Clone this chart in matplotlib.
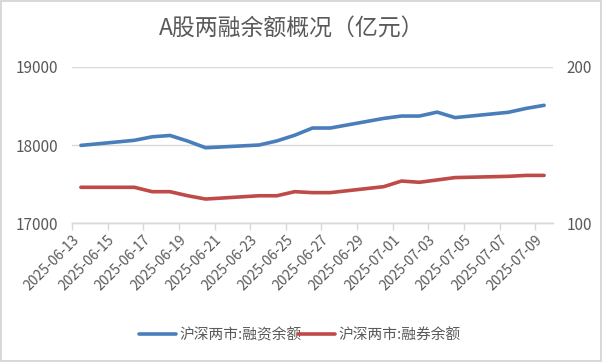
import datetime as dt
import matplotlib
matplotlib.use("Agg")
import matplotlib.pyplot as plt
import matplotlib.dates as mdates

plt.rcParams['font.family'] = ['Noto Sans CJK SC', 'DejaVu Sans']

# trading days
dates = ["2025-06-13", "2025-06-16", "2025-06-17", "2025-06-18", "2025-06-19",
         "2025-06-20", "2025-06-23", "2025-06-24", "2025-06-25", "2025-06-26",
         "2025-06-27", "2025-06-30", "2025-07-01", "2025-07-02", "2025-07-03",
         "2025-07-04", "2025-07-07", "2025-07-08", "2025-07-09"]
# 沪深两市:融资余额 (left axis)
financing = [17995, 18060, 18105, 18122, 18050, 17965, 18000, 18052, 18125,
             18217, 18217, 18340, 18370, 18370, 18420, 18350, 18418, 18468, 18507]
# 沪深两市:融券余额 (right axis)
lending = [123.0, 123.0, 120.2, 120.2, 117.6, 115.5, 117.6, 117.6, 120.2,
           119.6, 119.6, 123.4, 127.0, 126.2, 127.7, 129.2, 130.0, 130.6, 130.6]

title = "A股两融余额概况（亿元）"
label_fin = "沪深两市:融资余额"
label_lend = "沪深两市:融券余额"

gray = "#595959"
grid_c = "#d9d9d9"

# excel date axis: points sit in the middle of each day
x = [dt.datetime.strptime(d, "%Y-%m-%d") + dt.timedelta(hours=12) for d in dates]
start = dt.datetime(2025, 6, 13)
end = dt.datetime(2025, 7, 10)

fig = plt.figure(figsize=(6.02, 3.62), dpi=100)
fig.patch.set_edgecolor("#d9d9d9")
fig.patch.set_linewidth(1.5)
ax = fig.add_axes([0.1196, 0.3831, 0.799, 0.4326])
ax2 = ax.twinx()

l1, = ax.plot(x, financing, color="#4a7ebb", lw=2.6, solid_capstyle="round", label=label_fin)
l2, = ax2.plot(x, lending, color="#be4b48", lw=2.6, solid_capstyle="round", label=label_lend)

ax.set_xlim(start, end)
ax.set_ylim(17000, 19000)
ax.set_yticks([17000, 18000, 19000])
ax2.set_ylim(100, 200)
ax2.set_yticks([100, 200])

ticks = [start + dt.timedelta(days=2 * i) for i in range(14)]
ax.set_xticks(ticks)
ax.xaxis.set_major_formatter(mdates.DateFormatter("%Y-%m-%d"))
for lbl in ax.get_xticklabels():
    lbl.set_rotation(45)
    lbl.set_ha("right")
    lbl.set_rotation_mode("anchor")

ax.grid(axis="y", color=grid_c, lw=1)
ax.set_axisbelow(True)
for a in (ax, ax2):
    for s in ("left", "right", "top"):
        a.spines[s].set_visible(False)
    a.spines["bottom"].set_color(grid_c)
    a.spines["bottom"].set_linewidth(1)
ax.tick_params(axis="x", colors=grid_c, labelcolor=gray, labelsize=10, length=5, width=1, pad=2)
ax.tick_params(axis="y", length=0, labelcolor=gray, labelsize=11, pad=10)
ax2.tick_params(axis="y", length=0, labelcolor=gray, labelsize=11, pad=10)

fig.text(0.485, 0.921, title, ha="center", va="center", fontsize=16.5, color=gray)
fig.legend(handles=[l1, l2], loc="center", bbox_to_anchor=(0.4985, 0.0746), ncol=2,
           frameon=False, fontsize=10.6, handlelength=2.5, columnspacing=-0.25,
           handletextpad=0.25, labelcolor=gray)

fig.savefig("out.png", dpi=100, edgecolor=fig.get_edgecolor())
